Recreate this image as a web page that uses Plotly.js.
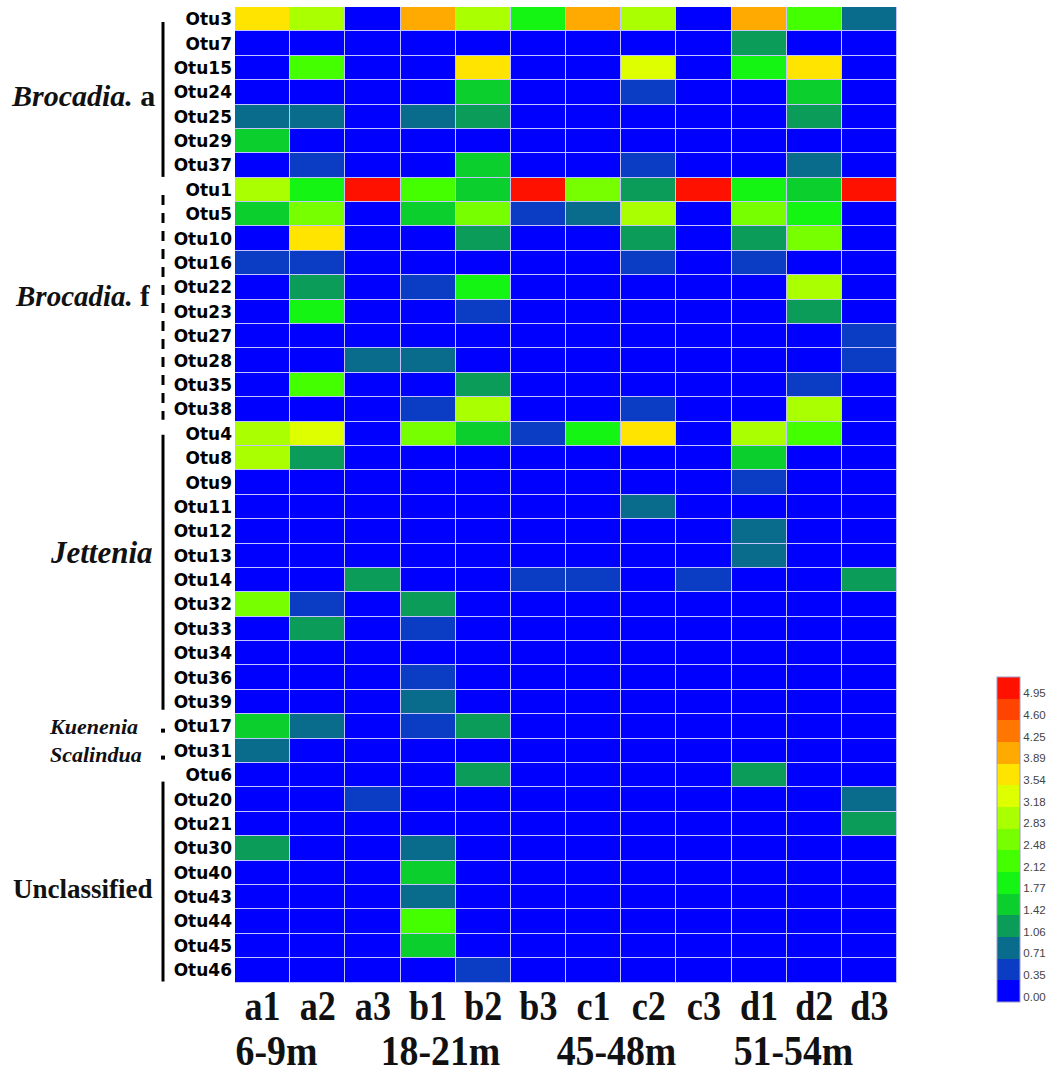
<!DOCTYPE html>
<html>
<head>
<meta charset="utf-8">
<script src="https://cdn.plot.ly/plotly-3.0.1.min.js"></script>
<style>html,body{margin:0;padding:0;background:#fff;}#chart{width:1058px;height:1076px;}</style>
</head>
<body>
<div id="chart"></div>
<script>
// ---------- data ----------
const samples = ['a1','a2','a3','b1','b2','b3','c1','c2','c3','d1','d2','d3'];
const depthGroups = ['6-9m','18-21m','45-48m','51-54m'];
const otus = ['Otu3','Otu7','Otu15','Otu24','Otu25','Otu29','Otu37',
  'Otu1','Otu5','Otu10','Otu16','Otu22','Otu23','Otu27','Otu28','Otu35','Otu38',
  'Otu4','Otu8','Otu9','Otu11','Otu12','Otu13','Otu14','Otu32','Otu33','Otu34','Otu36','Otu39',
  'Otu17','Otu31',
  'Otu6','Otu20','Otu21','Otu30','Otu40','Otu43','Otu44','Otu45','Otu46'];
const abundance = [
  [3.71,3.01,0,4.07,3.01,1.94,4.07,3.01,0,4.07,2.30,0.88], // Otu3
  [0,0,0,0,0,0,0,0,0,1.24,0,0],                          // Otu7
  [0,2.30,0,0,3.71,0,0,3.36,0,1.94,3.71,0],              // Otu15
  [0,0,0,0,1.59,0,0,0.53,0,0,1.59,0],                    // Otu24
  [0.88,0.88,0,0.88,1.24,0,0,0,0,0,1.24,0],              // Otu25
  [1.59,0,0,0,0,0,0,0,0,0,0,0],                          // Otu29
  [0,0.53,0,0,1.59,0,0,0.53,0,0,0.88,0],                 // Otu37
  [3.01,1.94,5.12,2.30,1.59,5.12,2.65,1.24,5.12,1.94,1.59,5.12], // Otu1
  [1.59,2.65,0,1.59,2.65,0.53,0.88,3.01,0,2.65,1.94,0],  // Otu5
  [0,3.71,0,0,1.24,0,0,1.24,0,1.24,2.65,0],              // Otu10
  [0.53,0.53,0,0,0,0,0,0.53,0,0.53,0,0],                 // Otu16
  [0,1.24,0,0.53,1.94,0,0,0,0,0,3.01,0],                 // Otu22
  [0,1.94,0,0,0.53,0,0,0,0,0,1.24,0],                    // Otu23
  [0,0,0,0,0,0,0,0,0,0,0,0.53],                          // Otu27
  [0,0,0.88,0.88,0,0,0,0,0,0,0,0.53],                    // Otu28
  [0,2.30,0,0,1.24,0,0,0,0,0,0.53,0],                    // Otu35
  [0,0,0,0.53,2.83,0,0,0.53,0,0,3.01,0],                 // Otu38
  [3.01,3.36,0,2.65,1.59,0.53,1.94,3.71,0,3.01,2.30,0],  // Otu4
  [3.01,1.24,0,0,0,0,0,0,0,1.59,0,0],                    // Otu8
  [0,0,0,0,0,0,0,0,0,0.53,0,0],                          // Otu9
  [0,0,0,0,0,0,0,0.88,0,0,0,0],                          // Otu11
  [0,0,0,0,0,0,0,0,0,0.88,0,0],                          // Otu12
  [0,0,0,0,0,0,0,0,0,0.88,0,0],                          // Otu13
  [0,0,1.24,0,0,0.53,0.53,0,0.53,0,0,1.24],              // Otu14
  [2.65,0.53,0,1.24,0,0,0,0,0,0,0,0],                    // Otu32
  [0,1.24,0,0.53,0,0,0,0,0,0,0,0],                       // Otu33
  [0,0,0,0,0,0,0,0,0,0,0,0],                             // Otu34
  [0,0,0,0.53,0,0,0,0,0,0,0,0],                          // Otu36
  [0,0,0,0.88,0,0,0,0,0,0,0,0],                          // Otu39
  [1.59,0.88,0,0.53,1.24,0,0,0,0,0,0,0],                 // Otu17
  [0.88,0,0,0,0,0,0,0,0,0,0,0],                          // Otu31
  [0,0,0,0,1.24,0,0,0,0,1.24,0,0],                       // Otu6
  [0,0,0.53,0,0,0,0,0,0,0,0,0.88],                       // Otu20
  [0,0,0,0,0,0,0,0,0,0,0,1.24],                          // Otu21
  [1.24,0,0,0.88,0,0,0,0,0,0,0,0],                       // Otu30
  [0,0,0,1.59,0,0,0,0,0,0,0,0],                          // Otu40
  [0,0,0,0.88,0,0,0,0,0,0,0,0],                          // Otu43
  [0,0,0,2.30,0,0,0,0,0,0,0,0],                          // Otu44
  [0,0,0,1.59,0,0,0,0,0,0,0,0],                          // Otu45
  [0,0,0,0,0.53,0,0,0,0,0,0,0]                           // Otu46
];
const scaleLabels = ['0.00','0.35','0.71','1.06','1.42','1.77','2.12','2.48','2.83','3.18','3.54','3.89','4.25','4.60','4.95'];
const groupNames = ['<b><i>Brocadia.</i> a</b>','<b><i>Brocadia.</i> f</b>','<b><i>Jettenia</i></b>','<b><i>Kuenenia</i></b>','<b><i>Scalindua</i></b>','<b>Unclassified</b>'];

// ---------- styles ----------
const binColors = ['#0000ff','#0b3cc4','#0a6c8c','#0a9c58','#0acf2c','#14f514','#44ff00','#77ff00','#aaff00','#ddff00','#ffe400','#ffaa00','#ff7700','#ff4400','#ff1100'];
const step = 0.3536;
const nBins = binColors.length;
const colorscale = [];
binColors.forEach((c,k)=>{ colorscale.push([k/nBins,c]); colorscale.push([(k+1)/nBins,c]); });

const trace = {
  type:'heatmap', x:samples, y:otus, z:abundance,
  zmin:0, zmax:step*nBins, colorscale:colorscale, xgap:1, ygap:1,
  colorbar:{
    x:1.151, xanchor:'left', xpad:0, y:-0.0195, yanchor:'bottom', ypad:0,
    lenmode:'pixels', len:325, thickness:23,
    outlinecolor:'#9a9ac8', outlinewidth:1,
    tickmode:'array', tickvals:scaleLabels.map((s,k)=>(k+0.25)*step), ticktext:scaleLabels,
    ticks:'', ticklen:0,
    tickfont:{family:'Liberation Sans', size:11.5, color:'#444'}
  }
};

const L = 235, T = 7, PW = 662, PH = 976;
const px = v => (v - L)/PW;
const rowIdx = p => (p - T)/(PH/otus.length) - 0.5;
const bx = px(163);
const line = (y0,y1,dash)=>({type:'line', xref:'paper', yref:'y', x0:bx, x1:bx, y0:rowIdx(y0), y1:rowIdx(y1), line:{color:'#000', width:3, dash:dash||'solid'}});
const dot = (y)=>({type:'rect', xref:'paper', yref:'y', xsizemode:'pixel', ysizemode:'pixel', xanchor:bx, yanchor:rowIdx(y), x0:-2, x1:2, y0:-2, y1:2, fillcolor:'#000', line:{width:0}});

const shapes = [
  line(22,177), line(195,420,'10px,8px'), line(435,710), dot(731), dot(758), line(782,982)
];

const groupPos = [[157,96,30],[152,296,29],[155,553,31],[140,727,22],[144,755,22],[155,889,27]];
const annotations = groupNames.map((t,i)=>({
  text:t, xref:'paper', yref:'y', x:px(groupPos[i][0]), y:rowIdx(groupPos[i][1]),
  xanchor:'right', yanchor:'middle', showarrow:false,
  font:{family:'Liberation Serif', size:groupPos[i][2], color:'#111'}
}));
const depthX = [276,440,616,793];
depthGroups.forEach((t,i)=>annotations.push({
  text:t, xref:'paper', yref:'paper', x:px(depthX[i]), y:(T+PH-1051)/PH,
  xanchor:'center', yanchor:'middle', showarrow:false,
  font:{family:'Liberation Serif', size:42, color:'#111', weight:'bold'}
}));

const layout = {
  width:1058, height:1076,
  margin:{l:L, r:1058-L-PW, t:T, b:1076-T-PH, pad:0},
  paper_bgcolor:'#fff', plot_bgcolor:'#c4c4ff',
  xaxis:{type:'category', showgrid:false, zeroline:false, ticks:'', showline:false,
    tickmode:'array', tickvals:samples, ticktext:samples, tickangle:0,
    tickfont:{family:'Liberation Serif', size:42, color:'#111', weight:'bold'}, ticklabelstandoff:-6},
  yaxis:{type:'category', autorange:'reversed', showgrid:false, zeroline:false, ticks:'', showline:false,
    tickmode:'array', tickvals:otus, ticktext:otus,
    tickfont:{family:'DejaVu Sans', size:17, color:'#000', weight:'bold'}, ticklabelstandoff:2},
  shapes:shapes, annotations:annotations, showlegend:false
};
Plotly.newPlot('chart',[trace],layout,{displayModeBar:false, staticPlot:true}).then(gd=>{
  // condense the bottom labels horizontally, as in the source figure
  const condense = (el,f)=>{ const w = el.getComputedTextLength(); el.setAttribute('lengthAdjust','spacingAndGlyphs'); el.setAttribute('textLength', (w*f).toFixed(1)); };
  gd.querySelectorAll('.xtick text').forEach(el=>condense(el,0.86));
  gd.querySelectorAll('.annotation').forEach(g=>{
    const idx = +g.getAttribute('data-index');
    if (idx >= groupNames.length) { const t = g.querySelector('text.annotation-text'); if (t) condense(t,0.9); }
  });
});
</script>
</body>
</html>
